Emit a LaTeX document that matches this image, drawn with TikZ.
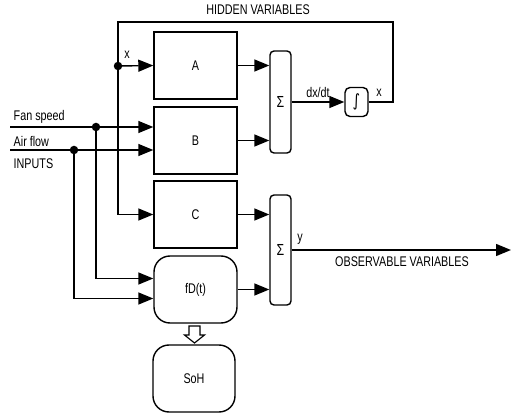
\documentclass[tikz,border=0pt]{standalone}
\usepackage{fontspec}
\setmainfont{Liberation Sans}[FakeStretch=0.77]
\newfontfamily\symfont{DejaVu Sans}[FakeStretch=0.85]
\usetikzlibrary{arrows.meta,calc}
\begin{document}
\begin{tikzpicture}[x=1pt,y=-1pt,line width=1.4pt,
  font=\fontsize{14}{16}\selectfont,
  blk/.style={draw,minimum width=83pt,minimum height=67pt,inner sep=0pt},
  rblk/.style={blk,rounded corners=16pt},
  sumblk/.style={draw,rounded corners=4pt,minimum width=21pt,inner sep=0pt,font=\fontsize{16}{18}\selectfont},
  arr/.style={-{Triangle[length=15pt,width=12pt]}},
  dot/.style={circle,fill,inner sep=0pt,minimum size=8.5pt},
  lbl/.style={inner sep=0pt}]
\useasboundingbox (0,0) rectangle (512,417);
% blocks
\node[blk] (A) at (195.5,65.5) {A};
\node[blk] (B) at (195.5,140.5) {B};
\node[blk] (C) at (195.5,214.5) {C};
\node[rblk] (fd) at (195.5,289.5) {fD(t)};
\node[rblk,minimum width=82pt] (soh) at (194,378.5) {SoH};
\node[sumblk,minimum height=102pt] (s1) at (280.5,102) {Σ};
\node[sumblk,minimum height=110pt] (s2) at (280.5,250) {Σ};
\node[draw,rounded corners=5pt,minimum width=23pt,minimum height=29pt,inner sep=0pt,font=\fontsize{17}{19}\selectfont] (int) at (356.5,102) {\symfont\char"222B};
% coordinates
\coordinate (tr) at (393,22);
\coordinate (tl) at (118,22);
\coordinate (fsin) at (10,127);
\coordinate (afin) at (10,150);
\coordinate (yout) at (511,250);
\node[dot] (xd) at (118,66) {};
\node[dot] (fsd) at (96,127) {};
\node[dot] (afd) at (74,150) {};
% connectors
\draw[arr] (A.east) -- (A.east -| s1.west);
\draw[arr] (B.east) -- (B.east -| s1.west);
\draw[arr] (s1.east) -- (int.west);
\draw (int.east) -| (tr) -- (tl) -- (xd.center);
\draw[arr] (xd.center) -- (A.west);
\draw[arr] (xd.center) |- (C.west);
\draw[arr] (C.east) -- (C.east -| s2.west);
\draw[arr] (fd.east) -- (fd.east -| s2.west);
\draw[arr] (s2.east) -- (yout);
\draw[arr] (fsin) -- (fsin -| B.west);
\draw[arr] (afin) -- (afin -| B.west);
\draw[arr] (fsd.center) |- ($(fd.west)+(0,-11)$);
\draw[arr] (afd.center) |- ($(fd.west)+(0,9)$);
% hollow arrow
\draw[line width=1.1pt,fill=white] (189,326) -- (200,326) -- (200,335) -- (204.5,335) -- (194.5,343) -- (184.5,335) -- (189,335) -- cycle;
% labels
\node[lbl] (thv) at (258,10) {HIDDEN VARIABLES};
\node[lbl] (tx1) at (127,55) {x};
\node[lbl,anchor=south west] (tfs) at (13,124) {Fan speed};
\node[lbl,anchor=south west] (taf) at (13,147) {Air flow};
\node[lbl,anchor=north west] (tin) at (13,158) {INPUTS};
\node[lbl] (tdx) at (318,92) {dx/dt};
\node[lbl] (tx2) at (379,93) {x};
\node[lbl] (ty) at (300,239) {y};
\node[lbl] (tobs) at (402,262) {OBSERVABLE VARIABLES};
\end{tikzpicture}
\end{document}
